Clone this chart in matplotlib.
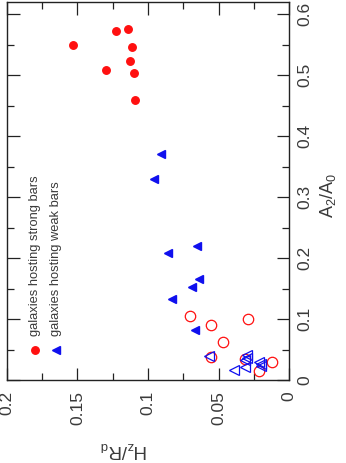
import matplotlib
matplotlib.use("Agg")
import matplotlib.pyplot as plt
from matplotlib.ticker import MultipleLocator, FuncFormatter

plt.rcParams['font.family'] = ['Liberation Sans', 'DejaVu Sans']

# Data: H_z/R_d (x in original orientation) and A2/A0
strong_h = [0.153, 0.123, 0.114, 0.111, 0.113, 0.130, 0.110, 0.109]
strong_a = [0.550, 0.572, 0.576, 0.546, 0.524, 0.508, 0.503, 0.459]

weak_h = [0.091, 0.096, 0.065, 0.086, 0.064, 0.069, 0.083, 0.067]
weak_a = [0.370, 0.330, 0.220, 0.209, 0.165, 0.153, 0.133, 0.082]

strong_open_h = [0.070, 0.055, 0.029, 0.047, 0.055, 0.031, 0.012, 0.021]
strong_open_a = [0.105, 0.090, 0.100, 0.062, 0.038, 0.034, 0.029, 0.015]

weak_open_h = [0.057, 0.030, 0.030, 0.031, 0.031, 0.039, 0.021, 0.020, 0.020]
weak_open_a = [0.040, 0.041, 0.036, 0.032, 0.022, 0.016, 0.030, 0.026, 0.023]

legend_labels = ["galaxies hosting strong bars", "galaxies hosting weak bars"]
xlabel = r'$\mathregular{H_z/R_d}$'
ylabel = r'$\mathregular{A_2/A_0}$'

RED = '#ff1010'
BLUE = '#1010ee'
TXT = '#3a3a3a'

fig = plt.figure(figsize=(3.46, 4.63), dpi=100)
ax = fig.add_axes([7/346, (463-380)/463, 282/346, 378/463])

ax.plot(strong_h, strong_a, 'o', ms=5.4, color=RED, mec=RED, ls='none')
ax.plot(weak_h, weak_a, '<', ms=6, color=BLUE, mec=BLUE, ls='none')
ax.plot(strong_open_h, strong_open_a, 'o', ms=7.5, mfc='none', mec=RED, mew=0.9, ls='none')
ax.plot(weak_open_h, weak_open_a, '<', ms=7, mfc='none', mec=BLUE, mew=0.9, ls='none')

ax.set_xlim(0.2, 0.0)
ax.set_ylim(0.0, 0.62)

ax.yaxis.tick_right()
ax.yaxis.set_label_position('right')
ax.xaxis.set_major_locator(MultipleLocator(0.05))
ax.xaxis.set_minor_locator(MultipleLocator(0.025))
ax.yaxis.set_major_locator(MultipleLocator(0.1))
ax.yaxis.set_minor_locator(MultipleLocator(0.05))

fmt = FuncFormatter(lambda v, p: ('%g' % round(v, 3)))
ax.xaxis.set_major_formatter(fmt)
ax.yaxis.set_major_formatter(fmt)

ax.tick_params(which='both', direction='in', top=True, bottom=True, left=True, right=True,
               color='#222222', width=0.9)
ax.tick_params(which='major', length=9)
ax.tick_params(which='minor', length=5)
ax.tick_params(axis='x', which='major', labelsize=12.5, labelcolor=TXT, labelrotation=90, pad=8)
ax.tick_params(axis='y', which='major', labelsize=12.5, labelcolor=TXT, labelrotation=90, pad=6)
for lab in ax.get_xticklabels():
    lab.set_va('top')
    lab.set_ha('center')
for lab in ax.get_yticklabels():
    lab.set_va('center')
    lab.set_ha('left')

for s in ax.spines.values():
    s.set_color('#222222')
    s.set_linewidth(1.0)

ax.set_xlabel(xlabel, fontsize=13.5, color=TXT, rotation=180)
ax.xaxis.set_label_coords((124-7)/282, (380-450)/378)
ax.xaxis.label.set_va('center')
ax.xaxis.label.set_ha('center')
ax.set_ylabel(ylabel, fontsize=13, color=TXT, rotation=90)
ax.yaxis.set_label_coords((328-7)/282, (380-195)/378)
ax.yaxis.label.set_va('center')
ax.yaxis.label.set_ha('center')

# legend (manual, rotated)
lx = [(35-7)/282, (56-7)/282]
ax.plot([lx[0]], [0.079], 'o', ms=5.4, color=RED, transform=ax.transAxes, clip_on=False)
ax.plot([lx[1]], [0.079], '<', ms=6, color=BLUE, transform=ax.transAxes, clip_on=False)
for x, t in zip(lx, legend_labels):
    ax.text(x, 0.117, t, rotation=90, ha='center', va='bottom', fontsize=9.3,
            color=TXT, transform=ax.transAxes)

fig.savefig('out.png', dpi=100)
